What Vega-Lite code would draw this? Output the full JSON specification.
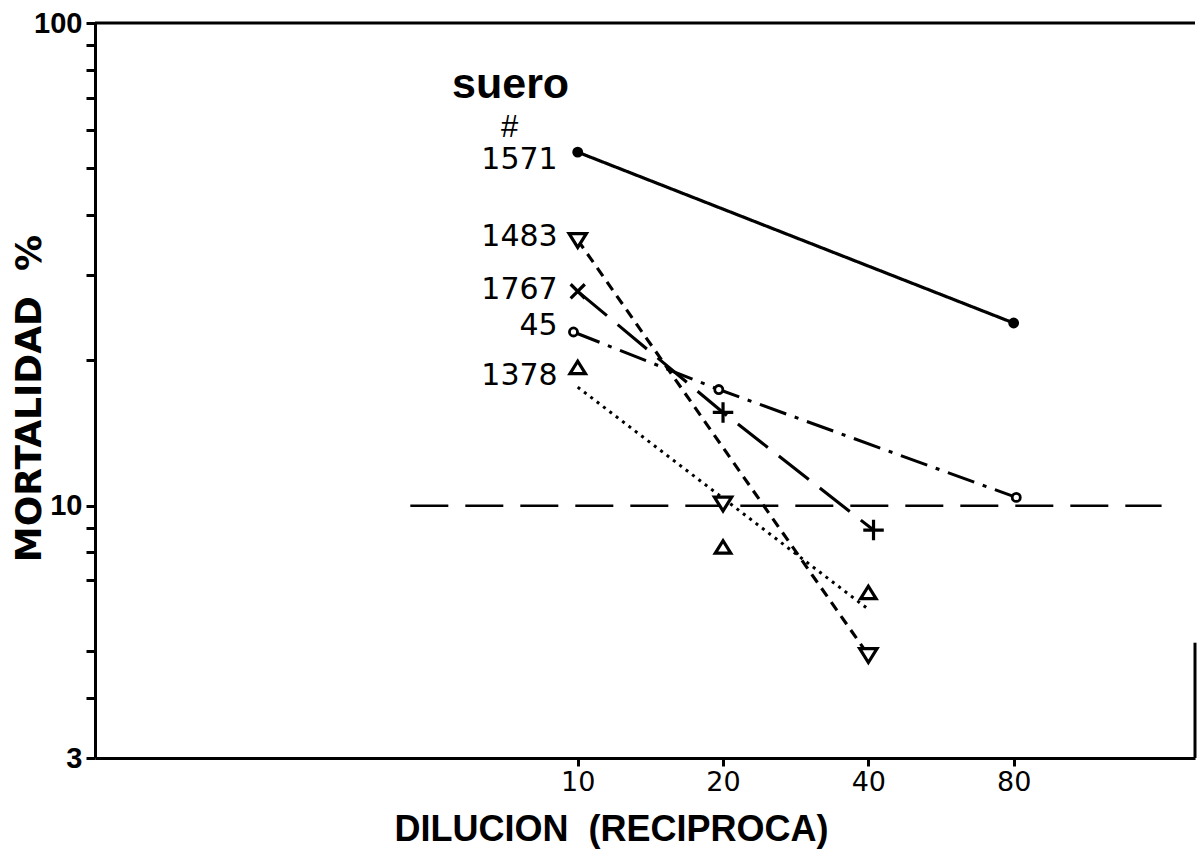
{
  "$schema": "https://vega.github.io/schema/vega-lite/v6.json",
  "width": 1100,
  "height": 735,
  "autosize": {"type": "none"},
  "padding": {"left": 95, "top": 23, "right": 2, "bottom": 92},
  "background": "white",
  "config": {
    "view": {"stroke": null},
    "axis": {
      "domainColor": "black", "domainWidth": 3, "tickColor": "black", "tickWidth": 3,
      "grid": false, "labelColor": "black", "titleColor": "black"
    }
  },
  "datasets": {
    "obs": [
      {"serie": "1571", "dil": 10, "mort": 54.0, "marker": "dot"},
      {"serie": "1571", "dil": 80, "mort": 23.9, "marker": "dot"},
      {"serie": "1483", "dil": 10, "mort": 35.5, "marker": "tdown"},
      {"serie": "1483", "dil": 20, "mort": 10.1, "marker": "tdown"},
      {"serie": "1483", "dil": 40, "mort": 4.9, "marker": "tdown"},
      {"serie": "1767", "dil": 10, "mort": 27.8, "marker": "x"},
      {"serie": "1767", "dil": 20, "mort": 15.6, "marker": "plus"},
      {"serie": "1767", "dil": 41, "mort": 8.9, "marker": "plus"},
      {"serie": "45", "dil": 9.8, "mort": 22.9, "marker": "o"},
      {"serie": "45", "dil": 19.6, "mort": 17.4, "marker": "o"},
      {"serie": "45", "dil": 81, "mort": 10.4, "marker": "o"},
      {"serie": "1378", "dil": 10, "mort": 19.3, "marker": "tup"},
      {"serie": "1378", "dil": 20, "mort": 8.2, "marker": "tup"},
      {"serie": "1378", "dil": 40, "mort": 6.6, "marker": "tup"}
    ],
    "fit": [
      {"serie": "1571", "dil": 10, "mort": 54.0},
      {"serie": "1571", "dil": 80, "mort": 23.9},
      {"serie": "1483", "dil": 10, "mort": 35.5},
      {"serie": "1483", "dil": 40, "mort": 4.9},
      {"serie": "1767", "dil": 10, "mort": 27.8},
      {"serie": "1767", "dil": 20, "mort": 15.6},
      {"serie": "1767", "dil": 41, "mort": 8.9},
      {"serie": "45", "dil": 9.8, "mort": 22.9},
      {"serie": "45", "dil": 19.6, "mort": 17.4},
      {"serie": "45", "dil": 81, "mort": 10.4},
      {"serie": "1378", "dil": 10, "mort": 17.6},
      {"serie": "1378", "dil": 40, "mort": 6.1}
    ],
    "labels": [
      {"label": "1571", "dil": 10, "mort": 52.0},
      {"label": "1483", "dil": 10, "mort": 36.0},
      {"label": "1767", "dil": 10, "mort": 28.0},
      {"label": "45", "dil": 10, "mort": 23.6},
      {"label": "1378", "dil": 10, "mort": 18.6}
    ],
    "notes": [
      {"label": "suero", "dil": 7.26, "mort": 70.0},
      {"label": "#", "dil": 7.23, "mort": 58.0}
    ]
  },
  "layer": [
    {
      "data": {"name": "fit"},
      "mark": {"type": "line", "color": "black"},
      "encoding": {
        "x": {"field": "dil", "type": "quantitative",
          "scale": {"type": "log", "domain": [1, 190], "nice": false},
          "axis": {
            "values": [10, 20, 40, 80], "tickSize": 8,
            "labelFont": "DejaVu Sans", "labelFontSize": 27, "labelPadding": 3,
            "title": "DILUCION\u00a0\u00a0(RECIPROCA)", "titleFont": "Liberation Sans",
            "titleFontSize": 36, "titleFontWeight": "bold", "titleX": 516, "titleY": 82,
            "titleAlign": "center", "titleBaseline": "alphabetic"
          }
        },
        "y": {"field": "mort", "type": "quantitative",
          "scale": {"type": "log", "domain": [3, 100], "nice": false},
          "axis": {
            "values": [3, 4, 5, 7, 8, 9, 10, 20, 30, 40, 50, 60, 70, 80, 90, 100],
            "labelExpr": "datum.value == 3 || datum.value == 10 || datum.value == 100 ? datum.label : ''",
            "tickSize": 9, "labelFont": "Liberation Sans", "labelFontSize": 29,
            "labelFontWeight": "bold", "labelPadding": 4,
            "title": "MORTALIDAD\u00a0\u00a0%", "titleFont": "DejaVu Sans", "titleFontSize": 36,
            "titleFontWeight": "bold", "titleX": -66, "titleY": 375, "titleAngle": -90,
            "titleAlign": "center", "titleBaseline": "middle"
          }
        },
        "detail": {"field": "serie"},
        "strokeDash": {"field": "serie", "type": "nominal", "legend": null,
          "scale": {"domain": ["1571", "1483", "1767", "45", "1378"],
            "range": [[1, 0], [10, 7], [38, 14], [28, 9, 4, 9], [3, 5]]}},
        "strokeWidth": {"field": "serie", "type": "nominal", "legend": null,
          "scale": {"domain": ["1571", "1483", "1767", "45", "1378"],
            "range": [3.2, 3, 3, 3, 2.2]}}
      }
    },
    {
      "data": {"values": [{}]},
      "mark": {"type": "rule", "color": "black", "strokeWidth": 3},
      "encoding": {
        "y": {"datum": 100, "type": "quantitative"}
      }
    },
    {
      "data": {"values": [{}]},
      "mark": {"type": "rule", "color": "black", "strokeWidth": 3},
      "encoding": {
        "x": {"datum": 190, "type": "quantitative"},
        "y": {"datum": 3, "type": "quantitative"},
        "y2": {"datum": 5.2}
      }
    },
    {
      "data": {"values": [{}]},
      "mark": {"type": "rule", "color": "black", "strokeWidth": 2.5, "strokeDash": [38, 17]},
      "encoding": {
        "x": {"datum": 4.5, "type": "quantitative"},
        "x2": {"datum": 162},
        "y": {"datum": 10, "type": "quantitative"}
      }
    },
    {
      "data": {"name": "obs"},
      "transform": [{"filter": "datum.marker == 'dot'"}],
      "mark": {"type": "point", "shape": "circle", "size": 70, "fill": "black", "fillOpacity": 1,
        "stroke": "black", "strokeWidth": 2.5, "opacity": 1},
      "encoding": {
        "x": {"field": "dil", "type": "quantitative"},
        "y": {"field": "mort", "type": "quantitative"}
      }
    },
    {
      "data": {"name": "obs"},
      "transform": [{"filter": "datum.marker == 'o'"}],
      "mark": {"type": "point", "shape": "circle", "size": 65, "fill": "white", "fillOpacity": 1,
        "stroke": "black", "strokeWidth": 2.8, "opacity": 1},
      "encoding": {
        "x": {"field": "dil", "type": "quantitative"},
        "y": {"field": "mort", "type": "quantitative"}
      }
    },
    {
      "data": {"name": "obs"},
      "transform": [{"filter": "datum.marker == 'tup'"}],
      "mark": {"type": "point", "shape": "M-1,0.75L1,0.75L0,-0.85Z", "size": 240, "fill": "white",
        "fillOpacity": 1, "stroke": "black", "strokeWidth": 3.2, "opacity": 1},
      "encoding": {
        "x": {"field": "dil", "type": "quantitative"},
        "y": {"field": "mort", "type": "quantitative"}
      }
    },
    {
      "data": {"name": "obs"},
      "transform": [{"filter": "datum.marker == 'tdown'"}],
      "mark": {"type": "point", "shape": "M-1,-0.75L1,-0.75L0,0.85Z", "size": 300, "fill": "white",
        "fillOpacity": 1, "stroke": "black", "strokeWidth": 3.2, "opacity": 1},
      "encoding": {
        "x": {"field": "dil", "type": "quantitative"},
        "y": {"field": "mort", "type": "quantitative"}
      }
    },
    {
      "data": {"name": "obs"},
      "transform": [{"filter": "datum.marker == 'x'"}],
      "mark": {"type": "point", "shape": "M-1,-1L1,1M-1,1L1,-1", "size": 200, "filled": false,
        "stroke": "black", "strokeWidth": 3.2, "opacity": 1},
      "encoding": {
        "x": {"field": "dil", "type": "quantitative"},
        "y": {"field": "mort", "type": "quantitative"}
      }
    },
    {
      "data": {"name": "obs"},
      "transform": [{"filter": "datum.marker == 'plus'"}],
      "mark": {"type": "point", "shape": "M-1,0L1,0M0,-1L0,1", "size": 420, "filled": false,
        "stroke": "black", "strokeWidth": 3.2, "opacity": 1},
      "encoding": {
        "x": {"field": "dil", "type": "quantitative"},
        "y": {"field": "mort", "type": "quantitative"}
      }
    },
    {
      "data": {"name": "labels"},
      "mark": {"type": "text", "align": "right", "baseline": "middle", "dx": -20,
        "font": "DejaVu Sans", "fontSize": 30, "color": "black"},
      "encoding": {
        "x": {"field": "dil", "type": "quantitative"},
        "y": {"field": "mort", "type": "quantitative"},
        "text": {"field": "label"}
      }
    },
    {
      "data": {"name": "notes"},
      "transform": [{"filter": "datum.label == 'suero'"}],
      "mark": {"type": "text", "align": "center", "baseline": "alphabetic",
        "font": "Liberation Sans", "fontSize": 43, "fontWeight": "bold", "color": "black"},
      "encoding": {
        "x": {"field": "dil", "type": "quantitative"},
        "y": {"field": "mort", "type": "quantitative"},
        "text": {"field": "label"}
      }
    },
    {
      "data": {"name": "notes"},
      "transform": [{"filter": "datum.label == '#'"}],
      "mark": {"type": "text", "align": "center", "baseline": "alphabetic",
        "font": "Liberation Sans", "fontSize": 31, "color": "black"},
      "encoding": {
        "x": {"field": "dil", "type": "quantitative"},
        "y": {"field": "mort", "type": "quantitative"},
        "text": {"field": "label"}
      }
    }
  ]
}
